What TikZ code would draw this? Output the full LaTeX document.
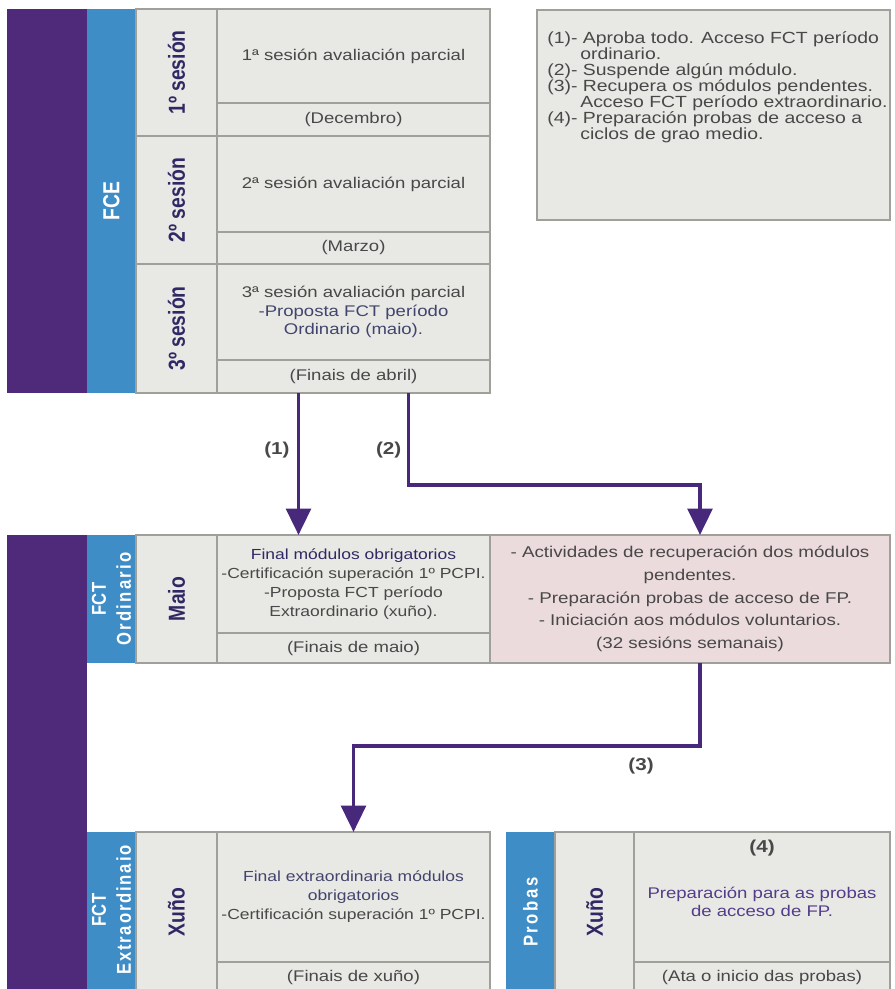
\documentclass[tikz,border=0pt]{standalone}
\usepackage{fontspec}
\setmainfont{Liberation Sans}[FakeStretch=1.2]
\newfontfamily\rotfont{Liberation Sans}
\usetikzlibrary{arrows.meta,positioning,calc}

\definecolor{barpurple}{RGB}{80,42,122}
\definecolor{barblue}{RGB}{62,141,199}
\definecolor{cellgray}{RGB}{232,233,228}
\definecolor{linegray}{RGB}{160,160,155}
\definecolor{cellpink}{RGB}{236,219,221}
\definecolor{txtgray}{RGB}{72,72,72}
\definecolor{txtnavy}{RGB}{48,40,100}
\definecolor{txtslate}{RGB}{66,68,110}
\definecolor{txtviolet}{RGB}{84,60,140}
\definecolor{flowpurple}{RGB}{72,40,122}

\begin{document}
\begin{tikzpicture}[x=0.02cm, y=-0.02cm,
  sz/.style 2 args={minimum width=(#1)*0.02cm, minimum height=(#2)*0.02cm},
  cell/.style={draw=linegray, fill=cellgray, line width=0.6pt, anchor=north west,
    inner sep=0pt, outer sep=0pt},
  bar/.style={fill=#1, anchor=north west, inner sep=0pt, outer sep=0pt},
  txt/.style={align=center, text=txtgray, inner sep=0pt,
    font=\fontsize{8.8}{10.4}\selectfont},
  rotlab/.style={rotate=90, yscale=1.2, align=center, text=txtnavy, inner sep=0pt,
    font=\rotfont\bfseries\fontsize{11}{12}\selectfont},
  barlab/.style={rotlab, text=white, font=\rotfont\bfseries\fontsize{9.5}{11.8}\selectfont},
  num/.style={font=\bfseries\fontsize{9.8}{11}\selectfont, text=txtgray, inner sep=0pt},
  flow/.style={draw=flowpurple, line width=2.2pt, -{Triangle[length=15pt, width=14pt]}},
]
  \useasboundingbox (0,0) rectangle (894,989);
  \clip (0,0) rectangle (894,989);

  % FCE block
  \node[bar=barpurple, sz={80}{384}] (fcepurple) at (7,9) {};
  \node[bar=barblue, sz={49}{384}] (fcebar) at (87,9) {};
  \node[barlab, font=\rotfont\bfseries\fontsize{11}{12}\selectfont] (fcetxt) at (fcebar.center) {FCE};
  \foreach \i/\y/\hm/\hd/\t/\dt in {
      1/9/94/33/{1ª sesión avaliación parcial}/{(Decembro)},
      2/136/96/32/{2ª sesión avaliación parcial}/{(Marzo)},
      3/264/96/33/{3ª sesión avaliación parcial\\
        \textcolor{txtslate}{-Proposta FCT período}\\
        \textcolor{txtslate}{Ordinario (maio).}}/{(Finais de abril)}} {
    \node[cell, sz={81}{\hm+\hd}] (s\i lab) at (136,\y) {};
    \node[rotlab] (s\i txt) at (s\i lab.center) {\i º sesión};
    \node[cell, txt, sz={273}{\hm}] (s\i main) at (217,\y) {\t};
    \node[cell, txt, sz={273}{\hd}] (s\i date) at (s\i main.south west) {\dt};
  }

  % Key
  \node[cell, sz={353}{210}] (legbox) at (537,10) {};
  \node[anchor=north west, align=left, text=txtgray, inner sep=0pt,
    font=\fontsize{9.2}{9.1}\selectfont] (legtxt) at ($(legbox.north west)+(10,21)$)
    {(1)- Aproba todo. Acceso FCT período\\
     \hspace*{0.66cm}ordinario.\\
     (2)- Suspende algún módulo.\\
     (3)- Recupera os módulos pendentes.\\
     \hspace*{0.66cm}Acceso FCT período extraordinario.\\
     (4)- Preparación probas de acceso a\\
     \hspace*{0.66cm}ciclos de grao medio.};

  % FCT ordinario
  \node[bar=barpurple, sz={80}{460}] (fctpurple) at (7,535) {};
  \node[bar=barblue, sz={49}{128}] (ordbar) at (87,535) {};
  \node[barlab] (ordtxt) at (ordbar.center)
    {FCT\\\addfontfeature{LetterSpace=14}Ordinario};
  \node[cell, sz={81}{128}] (maiocell) at (136,535) {};
  \node[rotlab] (maiotxt) at (maiocell.center) {Maio};
  \node[cell, txt, sz={273}{98}, font=\fontsize{8.3}{10.8}\selectfont] (ordmain) at (217,535)
    {\textcolor{txtnavy}{Final módulos obrigatorios}\\-Certificación superación 1º PCPI.\\
     -Proposta FCT período\\Extraordinario (xuño).};
  \node[cell, txt, sz={273}{30}] (orddate) at (ordmain.south west) {(Finais de maio)};
  \node[cell, txt, fill=cellpink, sz={400}{128}, font=\fontsize{8.9}{13}\selectfont] (recup) at (490,535)
    {- Actividades de recuperación dos módulos\\pendentes.\\
     - Preparación probas de acceso de FP.\\- Iniciación aos módulos voluntarios.\\
     (32 sesións semanais)};

  % FCT extraordinario
  \node[bar=barblue, sz={49}{160}] (extbar) at (87,832) {};
  \node[barlab] (exttxt) at ($(extbar.center)+(0,-2)$)
    {FCT\\\addfontfeature{LetterSpace=11}Extraordinaio};
  \node[cell, sz={81}{160}] (xunocell) at (136,832) {};
  \node[rotlab] (xunotxt) at (xunocell.center) {Xuño};
  \node[cell, txt, sz={273}{130}, font=\fontsize{8.3}{10.8}\selectfont] (extmain) at (217,832)
    {\textcolor{txtslate}{Final extraordinaria módulos}\\\textcolor{txtslate}{obrigatorios}\\
     -Certificación superación 1º PCPI.};
  \node[cell, txt, sz={273}{30}] (extdate) at (extmain.south west) {(Finais de xuño)};

  % Probas
  \node[bar=barblue, sz={49}{160}] (probbar) at (506,832) {};
  \node[barlab] (probtxt) at (probbar.center) {\addfontfeature{LetterSpace=16}Probas};
  \node[cell, sz={79}{160}] (probcell) at (555,832) {};
  \node[rotlab] (probxuno) at (probcell.center) {Xuño};
  \node[cell, sz={256}{130}] (probmain) at (634,832) {};
  \node[num] (lab4) at ($(probmain.north)+(0,16)$) {(4)};
  \node[txt, text=txtviolet] (probtext) at ($(probmain.center)+(0,5)$)
    {Preparación para as probas\\de acceso de FP.};
  \node[cell, txt, sz={256}{30}] (probdate) at (probmain.south west) {(Ata o inicio das probas)};

  % Flows
  \coordinate (out1) at ($(s3date.south)+(-55,0)$);
  \coordinate (out2) at ($(s3date.south)+(55,0)$);
  \draw[flow] (out1) -- node[num, left=4pt, pos=0.4] (lab1) {(1)} (out1 |- ordmain.north);
  \draw[flow] (out2) -- node[num, left=3pt, pos=0.62] (lab2) {(2)} ++(0,92)
    -| ($(recup.north)+(10,0)$);
  \coordinate (bend3) at ($(recup.south)+(10,83)$);
  \draw[flow] ($(recup.south)+(10,0)$) -- (bend3)
    -- node[num, below=6pt, pos=0.17] (lab3) {(3)} (bend3 -| extmain.north) -- (extmain.north);
\end{tikzpicture}
\end{document}
